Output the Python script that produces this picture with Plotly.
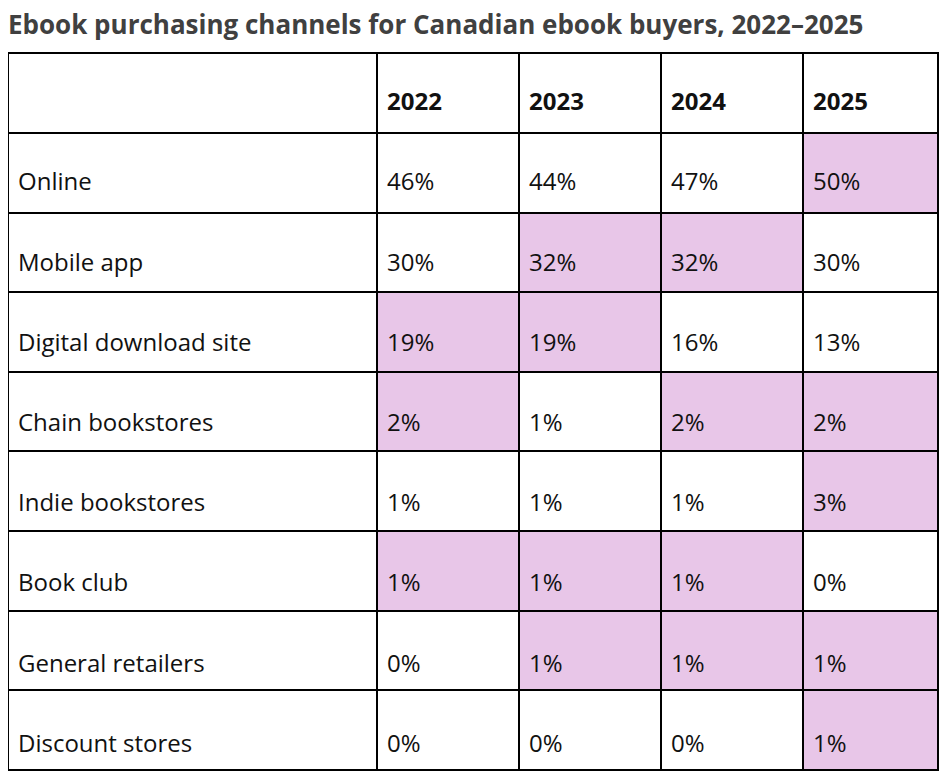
import plotly.graph_objects as go

# table contents
channels = ["Online", "Mobile app", "Digital download site", "Chain bookstores",
            "Indie bookstores", "Book club", "General retailers", "Discount stores"]
years = ["2022", "2023", "2024", "2025"]
share_2022 = [46, 30, 19, 2, 1, 1, 0, 0]
share_2023 = [44, 32, 19, 1, 1, 1, 1, 0]
share_2024 = [47, 32, 16, 2, 1, 1, 1, 0]
share_2025 = [50, 30, 13, 2, 3, 0, 1, 1]
# 1 = highlighted cell
hl_2022 = [0, 0, 1, 1, 0, 1, 0, 0]
hl_2023 = [0, 1, 1, 0, 0, 1, 1, 0]
hl_2024 = [0, 1, 0, 1, 0, 1, 1, 0]
hl_2025 = [1, 0, 0, 1, 1, 0, 1, 1]

HL = "#e8c6e8"
W, H = 948, 783
SP = "&nbsp;<br>"
COLW = [369, 142, 142, 142, 135]
ROWH = 79.6
FONT = dict(family="Open Sans", size=24, color="#111")
CLEAR = "rgba(0,0,0,0)"

shares = [share_2022, share_2023, share_2024, share_2025]
hls = [hl_2022, hl_2023, hl_2024, hl_2025]

cell_vals = [[SP + c for c in channels]]
cell_fill = [["white"] * len(channels)]
for s, h in zip(shares, hls):
    cell_vals.append([SP + "%d%%" % v for v in s])
    cell_fill.append([HL if f else "white" for f in h])
blank = [[""] * len(channels) for _ in cell_vals]

header_vals = [""] + [SP + "<b>%s</b>" % y for y in years]

fig = go.Figure()
# grid + fills
fig.add_trace(go.Table(
    domain=dict(x=[0, 930 / W], y=[1 - 767 / H, 1 - 45 / H]),
    columnwidth=COLW,
    header=dict(values=[""] * 5, height=80, fill_color="white",
                line=dict(color="black", width=2)),
    cells=dict(values=blank, height=ROWH, fill_color=cell_fill,
               line=dict(color="black", width=2)),
))
# text layer, nudged so the labels sit lower in each cell like the original
fig.add_trace(go.Table(
    domain=dict(x=[2 / W, 932 / W], y=[1 - 759 / H, 1 - 37 / H]),
    columnwidth=COLW,
    header=dict(values=header_vals, height=80, align="left",
                fill_color=CLEAR, line=dict(color=CLEAR, width=0), font=FONT),
    cells=dict(values=cell_vals, height=ROWH, align="left",
               fill_color=CLEAR, line=dict(color=CLEAR, width=0), font=FONT),
))

fig.update_layout(
    width=W, height=H,
    margin=dict(l=0, r=0, t=0, b=0),
    paper_bgcolor="white",
    title=dict(text="<b>Ebook purchasing channels for Canadian ebook buyers, 2022–2025</b>",
               x=0, xanchor="left", y=1 - 17 / H, yanchor="middle",
               xref="paper", yref="container",
               font=dict(family="Open Sans", size=26, color="#404040")),
)

fig.write_html("out.html")
